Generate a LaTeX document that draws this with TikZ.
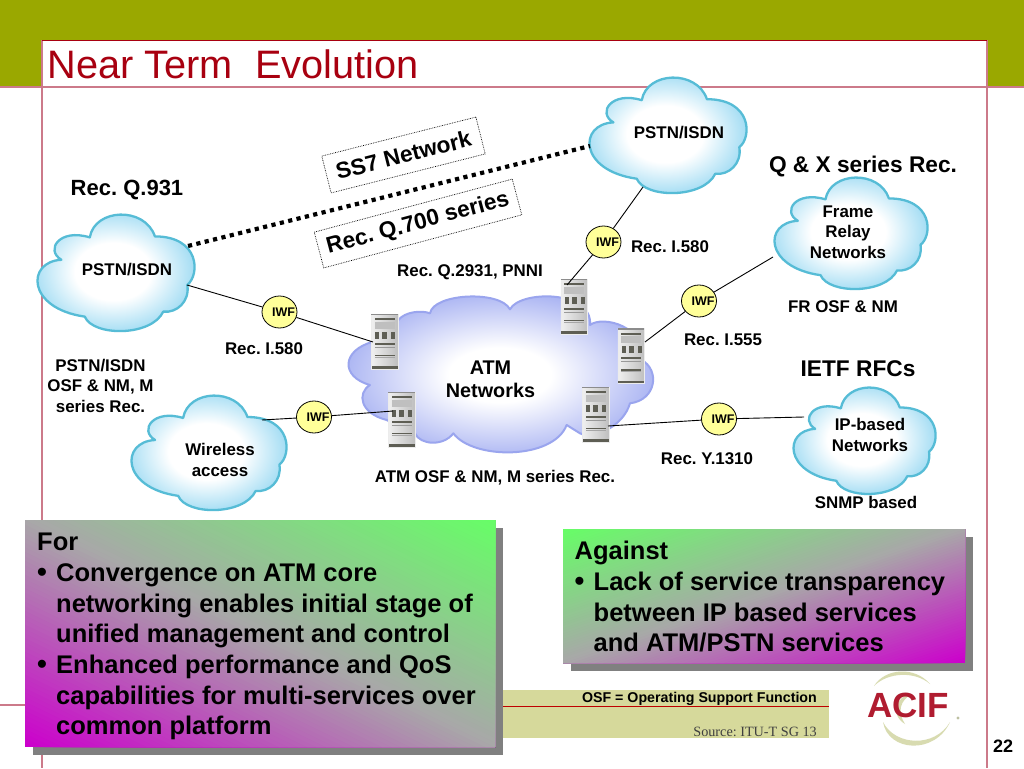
\documentclass[tikz,border=0pt]{standalone}
\usepackage{fontspec}
\setmainfont{Liberation Sans}
\newfontfamily\serifface{Liberation Serif}
\usetikzlibrary{shapes.geometric,shadings}
\definecolor{olive}{HTML}{9AA800}
\definecolor{pinkline}{HTML}{CC7A8A}
\definecolor{darkred}{HTML}{A80010}
\definecolor{cloudedge}{HTML}{56BCD6}
\definecolor{atmedge}{HTML}{9AA5EE}
\definecolor{iwfyellow}{HTML}{FFFF99}
\definecolor{bandcol}{HTML}{D6D99B}
\definecolor{shadowgrey}{HTML}{808080}
\definecolor{logored}{HTML}{B01C30}
\definecolor{logogreen}{HTML}{D8DBB0}
\definecolor{boxgreen}{HTML}{66FF66}
\definecolor{boxgrey}{HTML}{A8A8A8}
\definecolor{boxmag}{HTML}{CC00CC}
\definecolor{rackdark}{HTML}{5E5E54}
\pgfdeclareradialshading{cloudsky}{\pgfpointorigin}{rgb(0bp)=(1,1,1);rgb(11bp)=(1,1,1);rgb(25bp)=(.60,.85,.95);rgb(50bp)=(.60,.85,.95)}
\pgfdeclareradialshading{cloudatm}{\pgfpointorigin}{rgb(0bp)=(1,1,1);rgb(8bp)=(1,1,1);rgb(25bp)=(.66,.70,.95);rgb(50bp)=(.62,.66,.93)}
\newcommand{\fs}[2]{\fontsize{#1}{#2}\selectfont}
\tikzset{
  lab/.style={inner sep=0pt,align=center,font=\bfseries\fs{16.9}{20.5}},
  biglab/.style={inner sep=0pt,align=center,font=\bfseries\fs{22.7}{25}},
  atmlab/.style={inner sep=0pt,align=center,font=\bfseries\fs{19.8}{23}},
  iwfnode/.style={ellipse,draw=black,line width=.8pt,fill=iwfyellow,minimum width=35,minimum height=32,inner sep=0pt},
  iwftext/.style={inner sep=0pt,font=\bfseries\fs{12.5}{14},xshift=4pt},
  link/.style={draw=black,line width=.9pt},
  rackbox/.style={rectangle,minimum width=26.5,minimum height=55,inner sep=0pt,left color=black!6,right color=black!25,draw=white!85!gray,line width=.4pt},
  ratebox/.style={draw=black,densely dotted,line width=.7pt,fill=white,inner sep=0pt,font=\bfseries\fs{22.7}{25}},
  panel/.style={inner sep=0pt,anchor=north west,align=left,font=\bfseries\fs{25.5}{30.7}},
  frameline/.style={draw=pinkline,line width=1.1pt}
}
\newcommand{\cloudshape}{(95,165) .. controls (45,135) and (90,70) .. (180,98)
  .. controls (195,10) and (345,5) .. (375,95)
  .. controls (510,95) and (510,210) .. (472,240)
  .. controls (480,290) and (440,325) .. (400,320)
  .. controls (365,395) and (190,395) .. (165,335)
  .. controls (-10,310) and (-10,170) .. (95,165) -- cycle}
\newcommand{\skycloud}[4]{%
  \pgfmathsetmacro{\sx}{(#3-#1)/470}\pgfmathsetmacro{\sy}{(#4-#2)/347}%
  \begin{scope}[shift={(#1,#2)},xscale=\sx,yscale=\sy,shift={(-25,-28)}]
    \path[shade,shading=cloudsky,draw=cloudedge,line width=2.3pt,line join=round] \cloudshape;
  \end{scope}}
\newcommand{\rackdetail}[1]{%
  \begin{scope}[shift={(#1.north west)}]
    \fill[black!45] (0,0) rectangle (26.5,1.2);
    \fill[rackdark] (3.5,4.5) rectangle (23.5,6.5);
    \fill[black!25] (3.5,8) rectangle (23.5,15);
    \fill[rackdark] (4,18) rectangle (8,25);
    \fill[rackdark] (11,18) rectangle (16,25);
    \fill[rackdark] (20,18) rectangle (24,25);
    \fill[rackdark] (3.5,29) rectangle (23.5,31);
    \fill[black!40] (3.5,33) rectangle (23.5,34);
    \fill[rackdark] (3.5,41) rectangle (23.5,42.4);
    \fill[black!35] (3.5,43) rectangle (23.5,44);
    \fill[rackdark] (.5,52.5) rectangle (26.5,55);
  \end{scope}}
% diagonal three-colour gradient: origin corner, then width and height with sign
\newcommand{\diagpanel}[4]{%
  \begin{scope}[shift={(#1,#2)},xscale=#3,yscale=-#4]
    \clip (0,0) rectangle (1,1);
    \foreach \i in {0,...,100}{%
      \pgfmathsetmacro{\s}{\i/50}%
      \pgfmathtruncatemacro{\pa}{min(2*\i,100)}%
      \pgfmathtruncatemacro{\pb}{max(2*\i-100,0)}%
      \ifnum\i>50 \colorlet{stripcol}{boxgreen!\pb!boxgrey}\else\colorlet{stripcol}{boxgrey!\pa!boxmag}\fi
      \fill[stripcol] (\s,0) -- (3,0) -- (3,3) -- (0,3) -- (0,\s) -- cycle;
    }
  \end{scope}}
\newcommand{\pbullet}{\llap{\makebox[19pt][l]{\fs{28}{30.7}•}}}
\frenchspacing
\begin{document}
\begin{tikzpicture}[x=1pt,y=-1pt]
\useasboundingbox (0,0) rectangle (1024,768);
\clip (0,0) rectangle (1024,768);
% slide frame
\fill[white] (0,0) rectangle (1024,768);
\fill[olive] (0,0) rectangle (1024,87);
\fill[white] (42,40) rectangle (987,87);
\draw[frameline] (0,87) -- (1024,87);
\draw[frameline] (42,40) -- (42,768);
\draw[frameline] (987,40) -- (987,768);
\draw[frameline] (0,705) -- (30,705);
\draw[draw=darkred,line width=.9pt] (42,40) -- (987,40);
\node[inner sep=0pt,anchor=base west,text=darkred,font=\fs{39.7}{44}] (title) at (47.5,78) {Near Term\ \ Evolution};

% clouds
\begin{scope}[shift={(340,270)},scale=.3333]
\path[shade,shading=cloudatm,draw=atmedge,line width=2pt,line join=round]
 (175,150) .. controls (195,125) and (245,120) .. (270,130)
 .. controls (280,70) and (480,60) .. (510,118)
 .. controls (540,60) and (760,60) .. (750,165)
 .. controls (790,135) and (920,170) .. (905,270)
 .. controls (960,300) and (950,390) .. (870,400)
 .. controls (850,470) and (760,510) .. (720,490)
 -- (680,465)
 .. controls (640,570) and (400,570) .. (340,490)
 .. controls (310,530) and (240,525) .. (225,490)
 .. controls (190,480) and (160,460) .. (140,450)
 .. controls (60,430) and (50,370) .. (90,345)
 .. controls (0,320) and (5,240) .. (100,215)
 .. controls (110,170) and (150,140) .. (175,150) -- cycle;
\end{scope}
\skycloud{38}{214}{195}{330}
\skycloud{590}{77}{747}{192}
\skycloud{775}{177}{928}{288}
\skycloud{132}{395}{287}{509}
\skycloud{794}{387}{936}{493}

% racks
\node[rackbox] (s1) at (384.5,341.5) {};
\node[rackbox] (s2) at (574,306.5) {};
\node[rackbox] (s3) at (631,356) {};
\node[rackbox] (s4) at (401.5,419.5) {};
\node[rackbox] (s5) at (595.5,414.5) {};
\rackdetail{s1}\rackdetail{s2}\rackdetail{s3}\rackdetail{s4}\rackdetail{s5}

% connector ends
\coordinate (pL-ss7) at (188,246);
\coordinate (pR-ss7) at (590,146);
\coordinate (pL-out) at (187,285);
\coordinate (pR-out) at (643,187);
\coordinate (fr-out) at (773,257);
\coordinate (wl-out) at (262,420);
\coordinate (ip-out) at (804,417);
\coordinate (s1c) at (373,342);
\coordinate (s2c) at (567,285);
\coordinate (s3c) at (645,342);
\coordinate (s4c) at (393,411);
\coordinate (s5c) at (608,426);

% IWF nodes
\node[iwfnode,label={[iwftext]center:IWF}] (i1) at (279.5,312) {};
\node[iwfnode,label={[iwftext]center:IWF}] (i2) at (314,417) {};
\node[iwfnode,label={[iwftext]center:IWF}] (i3) at (603.5,242) {};
\node[iwfnode,label={[iwftext]center:IWF}] (i4) at (699,301) {};
\node[iwfnode,label={[iwftext]center:IWF}] (i5) at (719,419) {};

% connectors
\draw[link] (pL-out) -- (i1) (i1) -- (s1c);
\draw[link] (wl-out) -- (i2) (i2) -- (s4c);
\draw[link] (pR-out) -- (i3) (i3) -- (s2c);
\draw[link] (fr-out) -- (i4) (i4) -- (s3c);
\draw[link] (ip-out) -- (i5) (i5) -- (s5c);
\draw[draw=black,line width=4.2pt,dash pattern=on 4.2pt off 4.4pt] (pL-ss7) -- (pR-ss7);

% rotated labels
\node[ratebox,rotate=14.2,minimum width=159,minimum height=38] (ss7) at (403.5,155) {SS7 Network};
\node[ratebox,rotate=15,minimum width=205,minimum height=37] (q700) at (418,223.5) {Rec. Q.700 series};

% labels
\node[lab] (pLt) at (127,269.5) {PSTN/ISDN};
\node[lab] (pRt) at (679,132.5) {PSTN/ISDN};
\node[lab] (frt) at (848,232) {Frame\\Relay\\Networks};
\node[lab] (wlt) at (220,460) {Wireless\\access};
\node[lab] (ipt) at (870,435) {IP-based\\Networks};
\node[atmlab] (atm) at (490.5,379) {ATM\\Networks};
\node[biglab,font=\bfseries\fs{22}{25}] (q931) at (127,189.5) {Rec. Q.931};
\node[biglab] (qx) at (863,167) {Q \& X series Rec.};
\node[biglab] (ietf) at (858,368.5) {IETF RFCs};
\node[lab] (r1) at (264,348.5) {Rec. I.580};
\node[lab] (r2) at (670,246.5) {Rec. I.580};
\node[lab] (r3) at (470,272.5) {Rec. Q.2931, PNNI};
\node[lab] (r4) at (100.5,385.5) {PSTN/ISDN\\OSF \& NM, M\\series Rec.};
\node[lab] (r5) at (843,307) {FR OSF \& NM};
\node[lab] (r6) at (723,340) {Rec. I.555};
\node[lab] (r7) at (707,459) {Rec. Y.1310};
\node[lab] (r8) at (495,477.5) {ATM OSF \& NM, M series Rec.};
\node[lab] (r9) at (866,502.5) {SNMP based};

% footer band
\fill[bandcol] (500,690) rectangle (829,738);
\draw[draw=red!75!black,line width=.8pt] (500,706.5) -- (829,706.5);
\node[inner sep=0pt,anchor=base east,font=\bfseries\fs{14.2}{16}] (osf) at (817,702) {OSF = Operating Support Function};
\node[inner sep=0pt,anchor=base east,font=\serifface\fs{14.2}{16},text=black!75] (src) at (817,736) {Source: ITU-T SG 13};

% panels
\fill[shadowgrey] (33,528) rectangle (503,755);
\diagpanel{25}{747}{470}{227}
\node[panel] (forp) at (37,533) {For\\
\hspace*{19pt}\pbullet Convergence on ATM core\\
\hspace*{19pt}networking enables initial stage of\\
\hspace*{19pt}unified management and control\\
\hspace*{19pt}\pbullet Enhanced performance and QoS\\
\hspace*{19pt}capabilities for multi-services over\\
\hspace*{19pt}common platform};
\fill[shadowgrey] (571,537) rectangle (973,671);
\diagpanel{965}{663}{-402}{134}
\node[panel] (agp) at (574.5,541) {Against\\
\hspace*{19pt}\pbullet Lack of service transparency\\
\hspace*{19pt}between IP based services\\
\hspace*{19pt}and ATM/PSTN services};

% logo
\fill[logogreen] (874,686) .. controls (885,668) and (915,666) .. (930,684) .. controls (915,671) and (888,672) .. (874,686) -- cycle;
\fill[logogreen] (883,722) .. controls (888,752) and (935,755) .. (950,722) .. controls (935,748) and (895,746) .. (883,722) -- cycle;
\fill[logogreen] (912,694) .. controls (895,696) and (890,715) .. (905,724) .. controls (897,712) and (900,700) .. (912,694) -- cycle;
\node[inner sep=0pt,text=logored,font=\bfseries\fs{35}{38}] (acif) at (908,705.5) {ACIF};
\fill[logogreen!70!gray] (958,718) circle (1.6);
\node[inner sep=0pt,font=\bfseries\fs{18}{20}] (pg) at (1003,746) {22};
\end{tikzpicture}
\end{document}
